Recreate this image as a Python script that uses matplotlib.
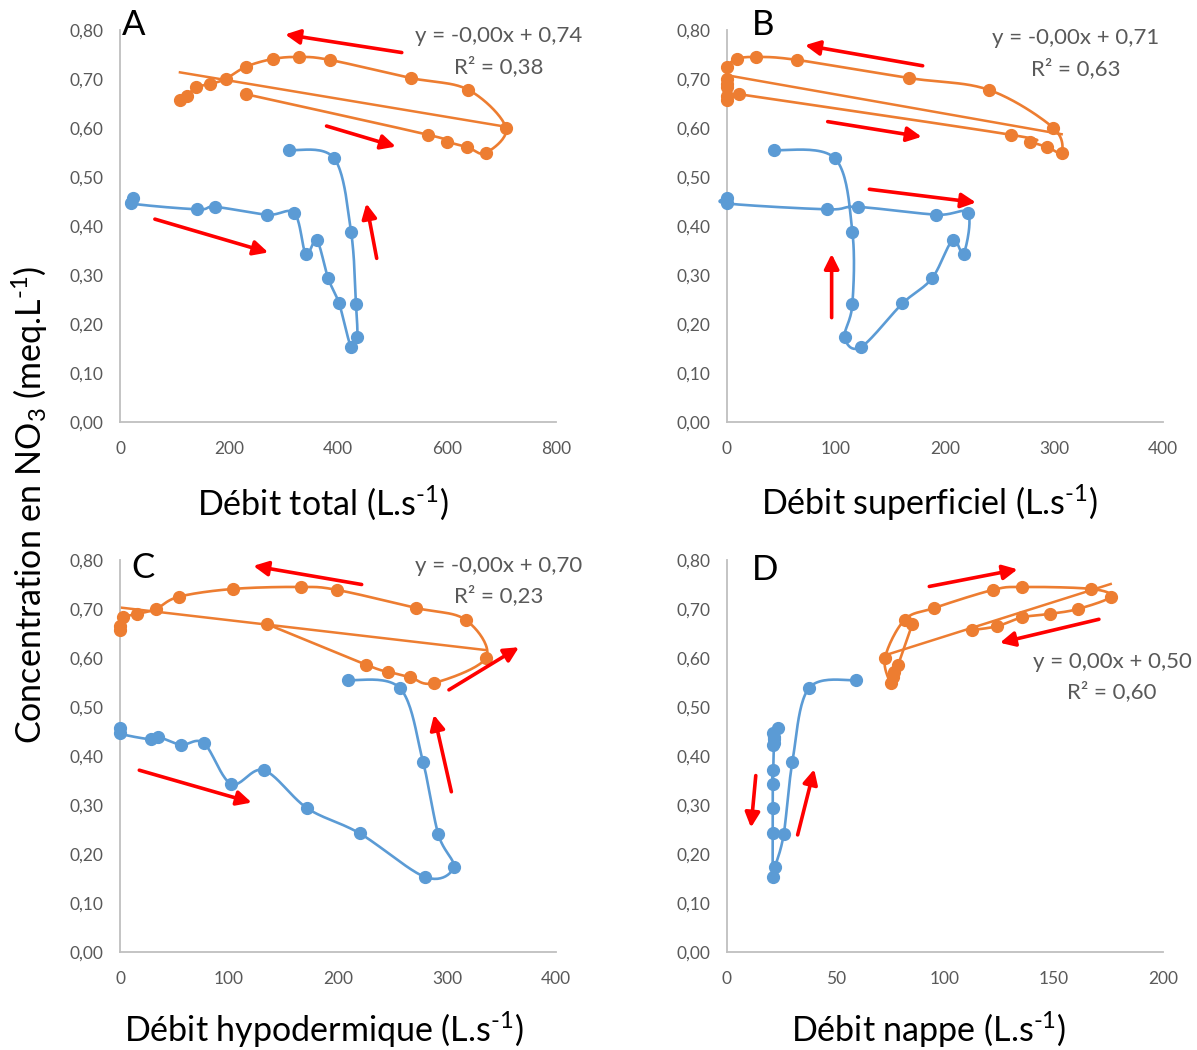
import numpy as np
import matplotlib.pyplot as plt
from matplotlib.ticker import FuncFormatter

plt.rcParams['font.family'] = ['Lato', 'DejaVu Sans']
plt.rcParams['mathtext.fontset'] = 'custom'
plt.rcParams['mathtext.rm'] = 'Lato'
plt.rcParams['mathtext.it'] = 'Lato:italic'

BLUE = '#5B9BD5'
ORANGE = '#ED7D31'
GREY = '#595959'

# NO3 concentration, in sampling order (same samples in all four panels)
blue_y = [0.458, 0.446, 0.434, 0.439, 0.423, 0.426, 0.343, 0.371, 0.293,
          0.242, 0.153, 0.173, 0.240, 0.388, 0.538, 0.555]
orange_y = [0.669, 0.586, 0.572, 0.561, 0.549, 0.601, 0.678, 0.702, 0.739,
            0.745, 0.741, 0.725, 0.700, 0.690, 0.683, 0.665, 0.657]

# discharge for each panel (L/s)
blue_total = [23, 21, 142, 175, 270, 320, 341, 361, 382, 402, 424, 435, 433, 424, 393, 311]
orange_total = [231, 566, 600, 637, 671, 708, 639, 534, 385, 329, 281, 231, 194, 166, 139, 123, 110]

blue_surf = [0, 0, 92, 120, 192, 221, 217, 207, 188, 161, 123, 108, 115, 115, 99, 43]
orange_surf = [11, 261, 278, 294, 307, 299, 240, 167, 64, 27, 9, 0.3, 0, 0, 0, 0, 0]

blue_hypo = [0, 0, 28, 35, 56, 77, 102, 132, 172, 220, 280, 306, 292, 278, 257, 209]
orange_hypo = [135, 226, 246, 266, 288, 336, 317, 272, 199, 166, 104, 54, 33, 16, 3, 0, 0]

blue_nappe = [23.5, 21, 21.5, 21.5, 21, 21.5, 21, 21, 21, 21, 21, 22, 26, 30, 37.5, 59]
orange_nappe = [85, 78.5, 76.5, 76, 75, 72.5, 81.5, 95, 122, 135.5, 167, 176, 161, 148, 135.5, 124, 112.5]

SUP = '$\\mathregular{^{\\text{-}1}}$'
xlabels = ['Débit total (L.s' + SUP + ')',
           'Débit superficiel (L.s' + SUP + ')',
           'Débit hypodermique (L.s' + SUP + ')',
           'Débit nappe (L.s' + SUP + ')']
ylabel = 'Concentration en NO$\\mathregular{_3}$ (meq.L' + SUP + ')'
letters = ['A', 'B', 'C', 'D']
xmaxes = [800, 400, 400, 200]
xsteps = [200, 100, 100, 50]
equations = [('y = -0,00x + 0,74', 'R² = 0,38'),
             ('y = -0,00x + 0,71', 'R² = 0,63'),
             ('y = -0,00x + 0,70', 'R² = 0,23'),
             ('y = 0,00x + 0,50', 'R² = 0,60')]

# hysteresis arrows (start -> end) in data units
arrows = [
    [((517, 0.754), (303, 0.791)), ((379, 0.604), (506, 0.562)),
     ((64, 0.414), (272, 0.346)), ((471, 0.334), (452, 0.446))],
    [((179.5, 0.727), (71.6, 0.769)), ((92.4, 0.613), (178.6, 0.582)),
     ((130.6, 0.475), (228.4, 0.448)), ((96, 0.213), (96, 0.343))],
    [((221.7, 0.750), (122.3, 0.788)), ((301.8, 0.535), (366, 0.622)),
     ((17.7, 0.371), (120.8, 0.305)), ((304, 0.327), (288, 0.484))],
    [((92.8, 0.746), (133.3, 0.781)), ((170.6, 0.679), (125.2, 0.631)),
     ((13.2, 0.360), (11, 0.254)), ((32.4, 0.239), (40, 0.373))],
]


def smooth(x, y, sx, sy, n=25):
    # Excel-like smoothed line: cubic Bezier through the points, in pixel space
    pts = np.column_stack([np.asarray(x, float) * sx, np.asarray(y, float) * sy])
    P = np.vstack([pts[0], pts, pts[-1]])
    t = np.linspace(0, 1, n)[:, None]
    segs = []
    for i in range(1, len(P) - 2):
        p0, p1, p2, p3 = P[i - 1], P[i], P[i + 1], P[i + 2]
        c1 = p1 + (p2 - p0) / 6
        c2 = p2 - (p3 - p1) / 6
        segs.append((1 - t) ** 3 * p1 + 3 * (1 - t) ** 2 * t * c1
                    + 3 * (1 - t) * t ** 2 * c2 + t ** 3 * p2)
    out = np.vstack(segs)
    return out[:, 0] / sx, out[:, 1] / sy


fig = plt.figure(figsize=(11.97, 10.5), dpi=100)
W, H = 1197, 1050
ax_px = [(120, 30), (727, 30), (120, 560), (727, 560)]
series = [(blue_total, orange_total), (blue_surf, orange_surf),
          (blue_hypo, orange_hypo), (blue_nappe, orange_nappe)]
eq_pos = [(0.869, 0.985, 0.906), (0.80, 0.980, 0.901),
          (0.869, 0.985, 0.908), (0.883, 0.740, 0.663)]
letter_pos = [(0.005, 1.013), (0.057, 1.013), (0.025, 0.98), (0.057, 0.975)]

for k in range(4):
    left, top = ax_px[k]
    ax = fig.add_axes([left / W, 1 - (top + 392) / H, 436 / W, 392 / H])
    xmax = xmaxes[k]
    ax.set_xlim(0, xmax)
    ax.set_ylim(0, 0.8)
    sx, sy = 436 / xmax, 392 / 0.8

    bx, ox = series[k]
    # linear trendline on the flood (orange) series
    a, b = np.polyfit(ox, orange_y, 1)
    xt = np.array([min(ox), max(ox)])
    ax.plot(xt, a * xt + b, color=ORANGE, lw=1.8, zorder=2)

    for xs, ys, col in [(bx, blue_y, BLUE), (ox, orange_y, ORANGE)]:
        lx, ly = smooth(xs, ys, sx, sy)
        ax.plot(lx, ly, color=col, lw=1.9, zorder=3, clip_on=False)
        ax.plot(xs, ys, 'o', color=col, ms=8.5, mec=col, zorder=4, clip_on=False)

    for (x0, y0), (x1, y1) in arrows[k]:
        ax.annotate('', xy=(x1, y1), xytext=(x0, y0),
                    arrowprops=dict(arrowstyle='-|>', color='red', lw=2.6,
                                    mutation_scale=22, shrinkA=0, shrinkB=0),
                    zorder=5)

    ex, ey1, ey2 = eq_pos[k]
    ax.text(ex, ey1, equations[k][0], transform=ax.transAxes, ha='center',
            va='center', fontsize=16, color=GREY)
    ax.text(ex, ey2, equations[k][1], transform=ax.transAxes, ha='center',
            va='center', fontsize=16, color=GREY)
    lx0, ly0 = letter_pos[k]
    ax.text(lx0, ly0, letters[k], transform=ax.transAxes, ha='left',
            va='center', fontsize=25, color='black')

    ax.set_xticks(np.arange(0, xmax + 1, xsteps[k]))
    ax.set_yticks(np.arange(0, 0.81, 0.1))
    ax.yaxis.set_major_formatter(FuncFormatter(lambda v, p: f'{v:.2f}'.replace('.', ',')))
    ax.tick_params(length=0, labelsize=12.5, labelcolor=GREY)
    ax.tick_params(axis='y', pad=12)
    ax.tick_params(axis='x', pad=14)
    for s in ['top', 'right']:
        ax.spines[s].set_visible(False)
    for s in ['left', 'bottom']:
        ax.spines[s].set_color('#BFBFBF')
        ax.spines[s].set_linewidth(1.3)
    ax.patch.set_alpha(0)

fig.text(323 / W, 1 - 503 / H, xlabels[0], ha='center', va='center', fontsize=24.5)
fig.text(929 / W, 1 - 503 / H, xlabels[1], ha='center', va='center', fontsize=24.5)
fig.text(324 / W, 1 - 1030 / H, xlabels[2], ha='center', va='center', fontsize=24.5)
fig.text(929 / W, 1 - 1030 / H, xlabels[3], ha='center', va='center', fontsize=24.5)
fig.text(30 / W, 1 - 505 / H, ylabel, ha='center', va='center', rotation=90, fontsize=24.5)

fig.savefig('out.png', dpi=100, facecolor='white')
